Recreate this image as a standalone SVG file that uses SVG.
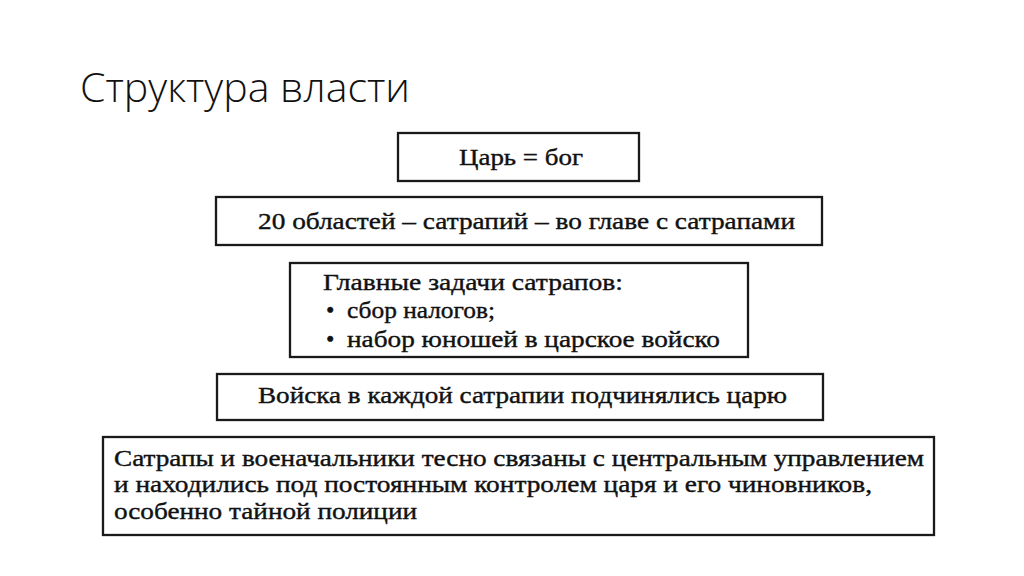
<svg xmlns="http://www.w3.org/2000/svg" width="1024" height="576" viewBox="0 0 1024 576">
<style>
.box{fill:#fff;stroke:#1a1a1a;stroke-width:2.3}
.t{font-family:"Liberation Serif","Times New Roman",serif;font-size:24px;fill:#111;stroke:#111;stroke-width:0.4}
.title{font-family:"Open Sans","Noto Sans",sans-serif;font-weight:300;font-size:40px;fill:#111}
</style>
<rect width="1024" height="576" fill="#fff"/>
<text class="title" x="80" y="102" textLength="330" lengthAdjust="spacingAndGlyphs">Структура власти</text>
<g id="node1">
<rect class="box" x="398" y="133" width="241" height="48"/>
<text class="t" x="459" y="165" textLength="124" lengthAdjust="spacingAndGlyphs">Царь = бог</text>
</g>
<g id="node2">
<rect class="box" x="216" y="197" width="606" height="48"/>
<text class="t" x="258" y="229" textLength="537" lengthAdjust="spacingAndGlyphs">20 областей – сатрапий – во главе с сатрапами</text>
</g>
<g id="node3">
<rect class="box" x="290" y="263" width="458" height="94"/>
<text class="t" x="323" y="290" textLength="300" lengthAdjust="spacingAndGlyphs">Главные задачи сатрапов:</text>
<text class="t" x="326" y="318">•</text>
<text class="t" x="347" y="318" textLength="148" lengthAdjust="spacingAndGlyphs">сбор налогов;</text>
<text class="t" x="326" y="347">•</text>
<text class="t" x="347" y="347" textLength="373" lengthAdjust="spacingAndGlyphs">набор юношей в царское войско</text>
</g>
<g id="node4">
<rect class="box" x="217" y="374" width="606" height="46"/>
<text class="t" x="258" y="403" textLength="529" lengthAdjust="spacingAndGlyphs">Войска в каждой сатрапии подчинялись царю</text>
</g>
<g id="node5">
<rect class="box" x="103" y="437" width="831" height="98"/>
<text class="t" x="114" y="466" textLength="810" lengthAdjust="spacingAndGlyphs">Сатрапы и военачальники тесно связаны с центральным управлением</text>
<text class="t" x="114" y="492" textLength="758" lengthAdjust="spacingAndGlyphs">и находились под постоянным контролем царя и его чиновников,</text>
<text class="t" x="114" y="519" textLength="303" lengthAdjust="spacingAndGlyphs">особенно тайной полиции</text>
</g>
<g id="connectors"/>
</svg>
